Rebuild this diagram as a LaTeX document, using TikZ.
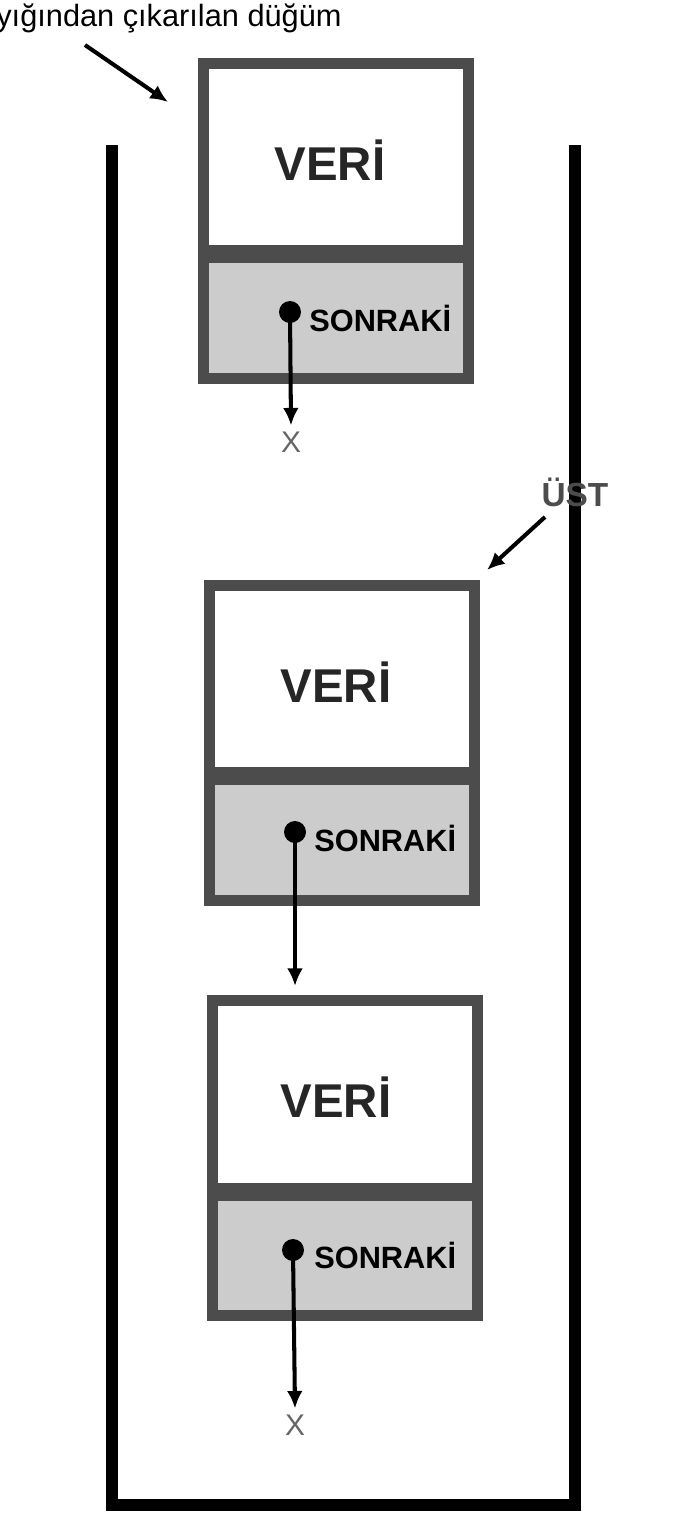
\documentclass[tikz,border=0pt]{standalone}
\usepackage{fontspec}
\setmainfont{Liberation Sans}
\usetikzlibrary{arrows.meta}
\tikzset{
  frame/.style = {draw = black!70, line width = 6.5pt, minimum width = 5.3cm, minimum height = 6.3cm},
  veri/.style = {font = \fontsize{27}{30}\selectfont\bfseries, text = black!85},
  sonraki/.style = {font = \fontsize{17.5}{19}\selectfont\bfseries, anchor = west, inner sep = 0pt},
  ptr/.style = {line width = 2.3pt, -{Latex[length = 10pt, width = 9pt]}},
  nil/.style = {font = \fontsize{17}{19}\selectfont, text = black!60}
}
\begin{document}
\begin{tikzpicture}[x = 0.02cm, y = -0.02cm]
    \useasboundingbox (0,0) rectangle (688,1536);
    % yigin
    \draw[line width = 6.8pt] (112,145) -- (112,1505) -- (575,1505) -- (575,145);
    % dugumler
    \begin{scope}
        \fill[gray!40] (206,255) rectangle (466,376);
        \fill[black!70] (206,245) rectangle (466,263);
        \node[frame] (d1) at (336,221) {};
        \node[veri] (v1) at (330,160) {VERİ};
        \fill (290,312) circle (11);
        \coordinate (p1) at (290,312);
        \node[sonraki] (s1) at (309,318) {SONRAKİ};
        \node[nil] (x1) at (291,442) {X};
        \draw[ptr] (p1) -- (x1.north);
    \end{scope}
    \begin{scope}
        \fill[gray!40] (212,777) rectangle (472,899);
        \fill[black!70] (212,767) rectangle (472,785);
        \node[frame] (d2) at (342,743) {};
        \node[veri] (v2) at (336,682) {VERİ};
        \fill (295,832) circle (11);
        \coordinate (p2) at (295,832);
        \node[sonraki] (s2) at (314,838) {SONRAKİ};
    \end{scope}
    \begin{scope}
        \fill[gray!40] (214,1193) rectangle (476,1312);
        \fill[black!70] (214,1183) rectangle (476,1201);
        \node[frame] (d3) at (345,1158) {};
        \node[veri] (v3) at (336,1097) {VERİ};
        \fill (293,1250) circle (11);
        \coordinate (p3) at (293,1250);
        \node[sonraki] (s3) at (314,1255) {SONRAKİ};
        \node[nil] (x3) at (295,1425) {X};
        \draw[ptr] (p3) -- (x3.north);
    \end{scope}
    \draw[ptr] (p2) -- (295,986);
    % etiketler
    \node[font = \fontsize{17.5}{20}\selectfont, anchor = west, inner sep = 0pt] (cik) at (-4,18) {yığından çıkarılan düğüm};
    \node[font = \fontsize{19}{21}\selectfont\bfseries, text = black!70] (ust) at (575,492) {ÜST};
    \coordinate (c1) at (85,45);
    \coordinate (u1) at (545,517);
    \draw[ptr] (c1) -- (168,102);
    \draw[ptr] (u1) -- (487,570);
\end{tikzpicture}
\end{document}
